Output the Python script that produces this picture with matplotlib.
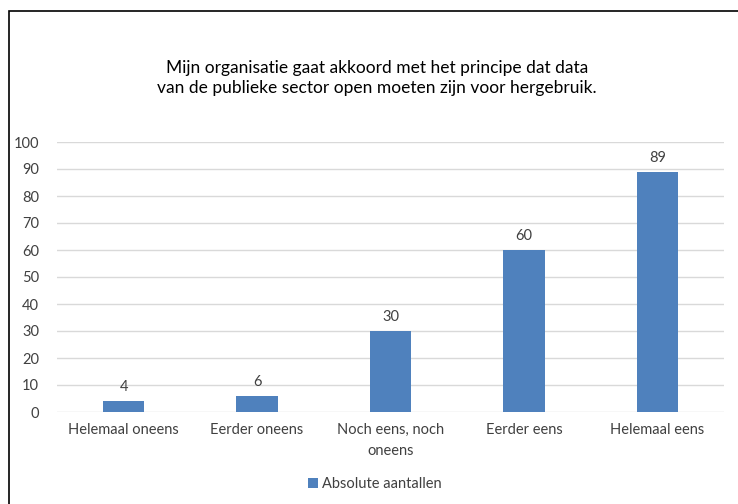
import matplotlib
matplotlib.use('Agg')
import matplotlib.pyplot as plt
from matplotlib.patches import Rectangle

categories = ['Helemaal oneens', 'Eerder oneens', 'Noch eens, noch\noneens', 'Eerder eens', 'Helemaal eens']
values = [4, 6, 30, 60, 89]
series_name = 'Absolute aantallen'
title = 'Mijn organisatie gaat akkoord met het principe dat data\nvan de publieke sector open moeten zijn voor hergebruik.'

plt.rcParams['font.family'] = ['Lato', 'DejaVu Sans']

W, H = 738, 504
fig = plt.figure(figsize=(W / 100, H / 100), dpi=100)
fig.patch.set_facecolor('white')

# chart border (runs off the right and bottom edges)
fig.patches.append(Rectangle((9 / W, -0.2), 2, 1.2 - 11 / H, transform=fig.transFigure,
                             fill=False, edgecolor='black', linewidth=1.2, clip_on=False))

ax = fig.add_axes([57 / W, 1 - 412 / H, (724 - 57) / W, (412 - 142) / H])
x = range(len(categories))
bars = ax.bar(x, values, width=0.31, color='#4F81BD', zorder=3, label=series_name)
for xi, v in zip(x, values):
    ax.annotate(str(v), (xi, v), xytext=(0, 5), textcoords='offset points',
                ha='center', va='bottom', fontsize=10.5, color='#404040')

ax.set_xlim(-0.5, len(categories) - 0.5)
ax.set_ylim(0, 100)
ax.set_yticks(range(0, 101, 10))
ax.set_xticks(list(x))
ax.set_xticklabels(categories, fontsize=10.5, color='#404040', linespacing=1.65)
ax.tick_params(axis='y', labelsize=10.5, labelcolor='#404040', length=0, pad=13)
ax.tick_params(axis='x', length=0, pad=8)
ax.grid(axis='y', color='#D9D9D9', linewidth=1, zorder=0)
for s in ax.spines.values():
    s.set_visible(False)

fig.text(377 / W, 1 - 78 / H, title, ha='center', va='center', fontsize=12.5,
         color='black', linespacing=1.35)

fig.legend(handles=[bars], labels=[series_name], loc='center', bbox_to_anchor=(375 / W, 1 - 484 / H),
           frameon=False, fontsize=10.5, handlelength=0.7, handleheight=0.7, handletextpad=0.3,
           labelcolor='#404040')

fig.savefig('out.png', dpi=100)
